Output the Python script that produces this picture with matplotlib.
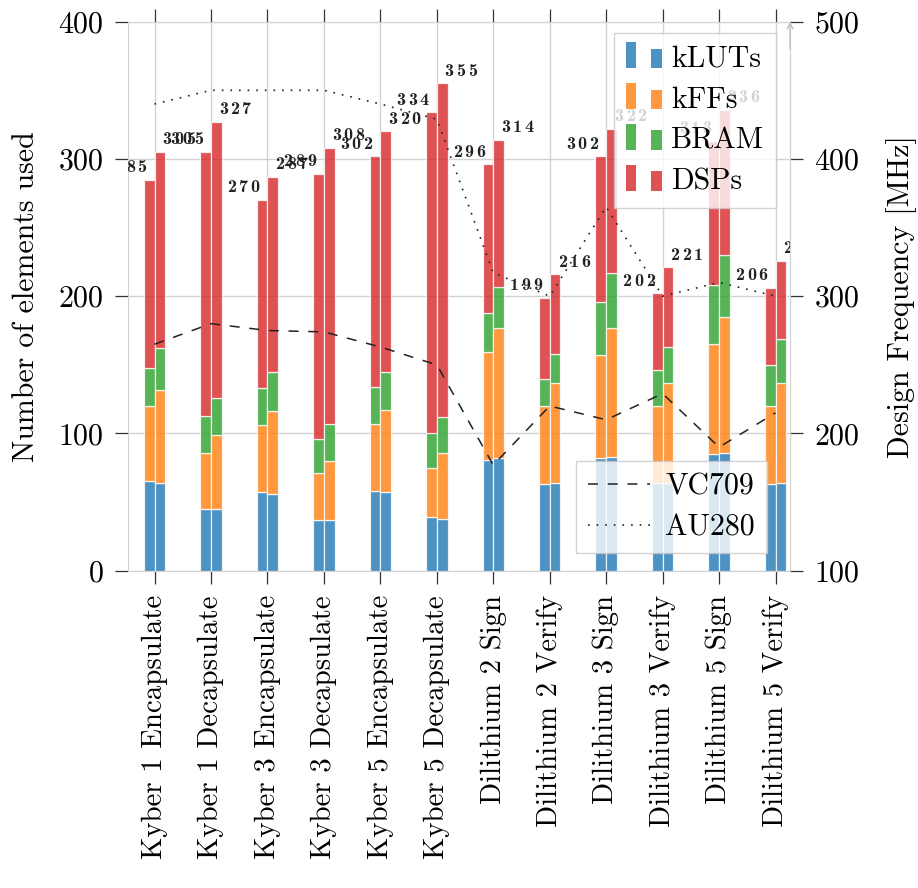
import numpy as np
import matplotlib
matplotlib.use('Agg')
import matplotlib.pyplot as plt
from matplotlib.legend_handler import HandlerBase
from matplotlib.patches import Rectangle, Patch
from matplotlib.lines import Line2D

plt.rcParams['font.family'] = 'cmr10'
plt.rcParams['mathtext.fontset'] = 'cm'
plt.rcParams['axes.formatter.use_mathtext'] = True
plt.rcParams['lines.scale_dashes'] = False

operations = ['Kyber 1 Encapsulate', 'Kyber 1 Decapsulate',
              'Kyber 3 Encapsulate', 'Kyber 3 Decapsulate',
              'Kyber 5 Encapsulate', 'Kyber 5 Decapsulate',
              'Dilithium 2 Sign', 'Dilithium 2 Verify',
              'Dilithium 3 Sign', 'Dilithium 3 Verify',
              'Dilithium 5 Sign', 'Dilithium 5 Verify']
resources = ['kLUTs', 'kFFs', 'BRAM', 'DSPs']

# VC709 (left bar of each pair)
vc709_kluts = [65, 45, 57, 37, 58, 39, 81, 63, 82, 64, 85, 63]
vc709_kffs = [55, 41, 49, 34, 49, 36, 78, 57, 75, 56, 80, 57]
vc709_bram = [28, 27, 27, 25, 27, 25, 29, 20, 39, 26, 43, 30]
vc709_dsps = [137, 192, 137, 193, 168, 234, 108, 59, 106, 56, 105, 56]

# AU280 (right bar of each pair)
au280_kluts = [64, 45, 56, 37, 57, 38, 82, 64, 83, 64, 86, 64]
au280_kffs = [68, 54, 60, 43, 60, 48, 95, 73, 94, 73, 99, 73]
au280_bram = [30, 27, 29, 27, 28, 26, 30, 21, 40, 26, 45, 32]
au280_dsps = [143, 201, 142, 201, 175, 243, 107, 58, 105, 58, 106, 57]

vc709_freq = [265, 280, 275, 274, 263, 250, 177, 220, 210, 229, 190, 215]
au280_freq = [440, 450, 450, 450, 440, 429, 317, 300, 365, 300, 310, 300]

colors = ['tab:blue', 'tab:orange', 'tab:green', 'tab:red']
GRID = '#d2d2d2'
TICK = '#333333'
DASHED = (0, (7.2, 7.0))
DOTTED = (0, (1.2, 5.0))
DIGIT_PITCH = 8.4  # points between the digits of a total label


class PairedBarHandler(HandlerBase):
    """Legend key made of two small bars, a tall one and a shorter one."""

    def create_artists(self, legend, orig_handle, xdescent, ydescent,
                       width, height, fontsize, trans):
        color = orig_handle.get_facecolor()
        bw = 0.29 * width
        tall = Rectangle((-xdescent, -ydescent), bw, 1.15 * height,
                         facecolor=color, edgecolor='none', transform=trans)
        short = Rectangle((-xdescent + width - bw, -ydescent), bw,
                          0.85 * height, facecolor=color, edgecolor='none',
                          transform=trans)
        return [tall, short]


def label_total(axis, xpos, total, dx):
    # letter-spaced bold total, one digit at a time
    digits = f'{total:.0f}'
    mid = (len(digits) - 1) / 2
    for k, ch in enumerate(digits):
        axis.annotate(ch, xy=(xpos, total),
                      xytext=(dx + (k - mid) * DIGIT_PITCH, 5.5),
                      textcoords='offset points', ha='center',
                      va='baseline', family='cmb10', fontsize=13,
                      color='#222222', clip_on=True, zorder=3)


fig = plt.figure(figsize=(9.18, 8.88), dpi=100)
ax = fig.add_axes([0.1398, 0.3573, 0.7208, 0.6183])
x = np.arange(len(operations))
w = 0.19

platforms = [
    (-w / 2, -13.5, [vc709_kluts, vc709_kffs, vc709_bram, vc709_dsps]),
    (w / 2, 13.5, [au280_kluts, au280_kffs, au280_bram, au280_dsps]),
]
for offset, label_dx, stacks in platforms:
    bottom = np.zeros(len(operations))
    for vals, color in zip(stacks, colors):
        ax.bar(x + offset, vals, w, bottom=bottom, color=color, alpha=0.8,
               edgecolor='white', linewidth=0.9, zorder=2)
        bottom = bottom + np.array(vals)
    for xi, total in zip(x + offset, bottom):
        label_total(ax, xi, total, label_dx)

ax.set_xlim(-0.464, 11.257)
ax.set_ylim(0, 400)
ax.set_yticks([0, 100, 200, 300, 400])
ax.set_xticks(x)
ax.set_xticklabels(operations, rotation=90)
ax.set_ylabel('Number of elements used', fontsize=21.5, labelpad=13.5)
ax.grid(True, color=GRID, linewidth=1.0)
ax.set_axisbelow(True)
ax.tick_params(axis='both', direction='out', length=9.5, width=0.9,
               color=TICK, pad=8, labelsize=21.5)
ax.tick_params(axis='x', top=True, labelsize=20.8)
for spine in ax.spines.values():
    spine.set_color(GRID)

bar_handles = [Patch(facecolor=c, alpha=0.8) for c in colors]
leg = ax.legend(bar_handles, resources, loc='upper right',
                bbox_to_anchor=(0.979, 0.979), borderaxespad=0,
                fontsize=21.5, handler_map={Patch: PairedBarHandler()},
                handlelength=1.2, handleheight=0.8, handletextpad=0.32,
                labelspacing=0.44, borderpad=0.4, fancybox=False,
                edgecolor='#c8c8c8', framealpha=0.8)
leg.get_frame().set_linewidth(1.0)

# operating frequencies on the secondary axis
ax2 = ax.twinx()
ax2.plot(x, vc709_freq, color='#222222', linewidth=1.1, linestyle=DASHED,
         zorder=4)
ax2.plot(x, au280_freq, color='#222222', linewidth=1.2, linestyle=DOTTED,
         zorder=4)
ax2.set_ylim(100, 500)
ax2.set_yticks([100, 200, 300, 400, 500])
ax2.set_ylabel('Design Frequency [MHz]', fontsize=21.5, labelpad=19)
ax2.tick_params(axis='y', direction='out', length=9.5, width=0.9,
                color=TICK, pad=8, labelsize=21.5)
for side in ['top', 'left', 'bottom']:
    ax2.spines[side].set_visible(False)
ax2.spines['right'].set_color(GRID)
ax2.annotate('', xy=(1, 1), xytext=(1, 0.95), xycoords='axes fraction',
             arrowprops=dict(arrowstyle='->', color='#c0c0c0', lw=1.0,
                             shrinkA=0, shrinkB=0))

line_handles = [
    Line2D([], [], color='#222222', linewidth=1.1, linestyle=DASHED),
    Line2D([], [], color='#222222', linewidth=1.2, linestyle=DOTTED),
]
leg2 = ax2.legend(line_handles, ['VC709', 'AU280'], loc='lower right',
                  bbox_to_anchor=(0.965, 0.032), borderaxespad=0,
                  fontsize=21.5, handlelength=2.1, handletextpad=0.5,
                  labelspacing=0.45, borderpad=0.4, fancybox=False,
                  edgecolor='#c8c8c8', framealpha=0.8)
leg2.get_frame().set_linewidth(1.0)

fig.savefig('out.png', dpi=100)
